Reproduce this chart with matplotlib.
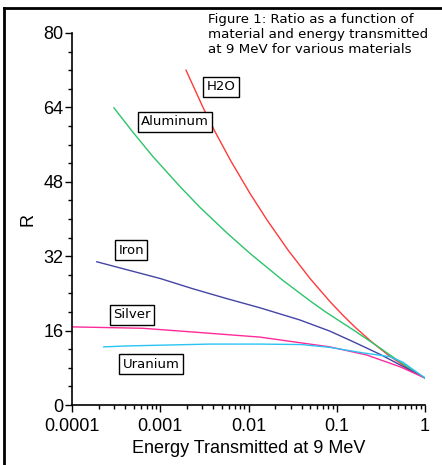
import numpy as np
import matplotlib.pyplot as plt
from matplotlib.lines import Line2D
from matplotlib.ticker import LogLocator, MultipleLocator, FixedFormatter, FixedLocator

# lectura aproximada de las curvas
h2o_x = [0.00196, 0.00305, 0.00417, 0.0063, 0.0104, 0.0162, 0.0281, 0.0498, 0.0832, 0.1175, 0.162, 0.251, 0.398, 0.631, 1]
h2o_r = [72, 64.0, 58.8, 52.5, 45.5, 39.8, 33.3, 27.2, 22.3, 19.3, 16.7, 13.5, 10.5, 8.0, 5.8]

al_x = [0.000299, 0.000479, 0.000828, 0.00167, 0.00282, 0.0057, 0.0104, 0.0245, 0.0498, 0.0736, 0.158, 0.257, 0.398, 0.631, 1]
al_r = [63.9, 58.9, 53.4, 47.0, 42.5, 37.0, 32.6, 26.8, 22.4, 20.1, 16.0, 13.3, 10.8, 8.2, 5.8]

fe_x = [0.000191, 0.000417, 0.001, 0.00234, 0.00562, 0.0135, 0.038, 0.0832, 0.158, 0.309, 0.479, 1]
fe_r = [30.8, 29.1, 27.2, 25.0, 22.9, 20.9, 18.3, 15.9, 13.5, 10.9, 9.0, 5.8]

ag_x = [0.0001, 0.00063, 0.00234, 0.0135, 0.0832, 0.219, 0.525, 1]
ag_r = [16.8, 16.5, 15.7, 14.6, 12.5, 10.75, 8.2, 5.8]

u_x = [0.000229, 0.000417, 0.00363, 0.0135, 0.0398, 0.0832, 0.2, 0.398, 0.562, 0.776, 1]
u_r = [12.5, 12.7, 13.1, 13.1, 13.0, 12.4, 11.2, 10.4, 9.2, 7.3, 5.8]

nombres = ['H2O', 'Aluminum', 'Iron', 'Silver', 'Uranium']
colores = ['#ff3a3a', '#2cc46a', '#4444a8', '#ff2a9a', '#2ac4f4']
etiqueta_x = [0.0049, 0.00147, 0.00047, 0.00048, 0.00079]
etiqueta_r = [68.4, 60.9, 33.3, 19.4, 8.8]

xticks = [0.0001, 0.001, 0.01, 0.1, 1]
xticklabels = ['0.0001', '0.001', '0.01', '0.1', '1']
yticks = [0, 16, 32, 48, 64, 80]

fig = plt.figure(figsize=(4.42, 4.65), dpi=100)
ax = fig.add_axes([72/442, 60/465, 353/442, 372/465])

series = [(h2o_x, h2o_r), (al_x, al_r), (fe_x, fe_r), (ag_x, ag_r), (u_x, u_r)]
for (x, r), c in zip(series, colores):
    ax.plot(x, r, color=c, linewidth=1)

for n, x, r in zip(nombres, etiqueta_x, etiqueta_r):
    ax.text(x, r, n, ha='center', va='center', fontsize=9.5, family='DejaVu Sans',
            bbox=dict(boxstyle='square,pad=0.25', facecolor='white', edgecolor='black', linewidth=1))

ax.set_xscale('log')
ax.set_xlim(0.0001, 1)
ax.set_ylim(0, 80)
ax.xaxis.set_major_locator(FixedLocator(xticks))
ax.xaxis.set_major_formatter(FixedFormatter(xticklabels))
ax.xaxis.set_minor_locator(LogLocator(base=10, subs=np.arange(2, 10)))
ax.set_yticks(yticks)
ax.yaxis.set_minor_locator(MultipleLocator(4))

ax.spines['top'].set_visible(False)
ax.spines['right'].set_visible(False)
ax.spines['left'].set_linewidth(1.2)
ax.spines['bottom'].set_linewidth(1.2)
ax.tick_params(which='major', length=5, width=1, labelsize=13)
ax.tick_params(axis='y', which='major', pad=1)
ax.tick_params(axis='x', which='major', pad=4)
ax.tick_params(which='minor', length=3, width=1)
for lab in ax.get_xticklabels() + ax.get_yticklabels():
    lab.set_family('Liberation Sans')

ax.set_xlabel('Energy Transmitted at 9 MeV', fontsize=13, family='Liberation Sans', labelpad=4)
ax.set_ylabel('R', fontsize=13, family='Liberation Sans', labelpad=5)

fig.text(208/442, 1 - 13/465,
         'Figure 1: Ratio as a function of\nmaterial and energy transmitted\nat 9 MeV for various materials',
         ha='left', va='top', fontsize=9.6, family='DejaVu Sans', linespacing=1.2)

# marco parcial (izquierda y arriba)
fig.add_artist(Line2D([4/442, 4/442], [0, 1 - 8/465], color='black', linewidth=2, transform=fig.transFigure))
fig.add_artist(Line2D([4/442, 1], [1 - 8/465, 1 - 8/465], color='black', linewidth=2, transform=fig.transFigure))

fig.savefig('out.png', dpi=100)
